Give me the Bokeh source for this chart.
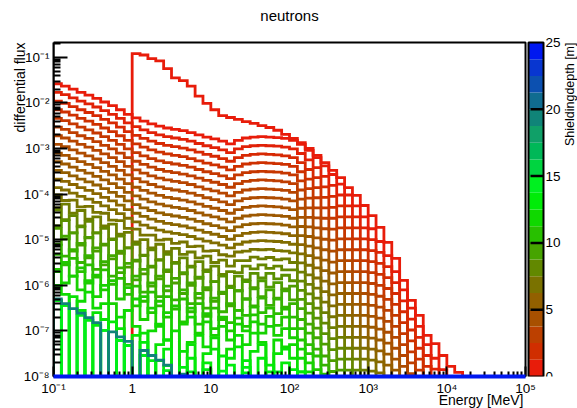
import math
from bokeh.plotting import figure
from bokeh.models import (FixedTicker, CustomJSTickFormatter, Range1d,
                          LinearScale, Title)
from bokeh.core.properties import value
from bokeh.embed import file_html
from bokeh.resources import INLINE

# ---------------- data (log10 of differential flux per energy bin) ----------------
# 60 log-spaced energy bins from 0.1 MeV to 1e5 MeV (10 per decade); None = empty bin
n_bins = 60
bin_edges = [10 ** (-1 + 0.1 * k) for k in range(n_bins + 1)]

flux_d00 = [None, None, None, None, None, None, None, None, None, None,
            -0.92, -0.95, -1.03, -1.08, -1.25, -1.45, -1.51, -1.63, -1.85, -2.01,
            -2.15, -2.28, -2.32, -2.36, -2.41, -2.45, -2.50, -2.54, -2.60, -2.69,
            -2.78, -2.87, -3.00, -3.15, -3.31, -3.48, -3.64, -3.86, -4.03, -4.25,
            -4.47, -4.73, -5.06, -5.41, -5.89, -6.33, -6.66, -7.10, -7.28, -7.54,
            -7.78, -7.91]
flux_d05 = [-1.58, -1.63, -1.70, -1.77, -1.83, -1.90, -1.98, -2.06, -2.15, -2.25,
            -2.33, -2.40, -2.46, -2.51, -2.55, -2.58, -2.61, -2.65, -2.70, -2.75,
            -2.79, -2.84, -2.90, -2.82, -2.77, -2.75, -2.74, -2.75, -2.76, -2.78,
            -2.82, -2.91, -3.04, -3.20, -3.38, -3.57, -3.78, -4.02, -4.26, -4.50,
            -4.76, -5.04, -5.35, -5.70, -6.10, -6.50, -6.90, -7.30, -7.60, -7.85]
flux_d10 = [-1.77, -1.82, -1.89, -1.96, -2.02, -2.09, -2.17, -2.25, -2.34, -2.44,
            -2.52, -2.59, -2.65, -2.70, -2.74, -2.77, -2.80, -2.84, -2.89, -2.94,
            -2.98, -3.03, -3.09, -3.01, -2.96, -2.94, -2.93, -2.94, -2.95, -2.97,
            -3.01, -3.11, -3.25, -3.42, -3.61, -3.81, -4.02, -4.26, -4.50, -4.74,
            -5.00, -5.28, -5.59, -5.94, -6.34, -6.74, -7.14, -7.54, -7.84]
flux_d15 = [-1.96, -2.01, -2.08, -2.15, -2.21, -2.28, -2.36, -2.44, -2.53, -2.63,
            -2.71, -2.78, -2.84, -2.89, -2.93, -2.96, -2.99, -3.03, -3.08, -3.13,
            -3.17, -3.22, -3.28, -3.20, -3.15, -3.13, -3.12, -3.13, -3.14, -3.16,
            -3.20, -3.31, -3.46, -3.64, -3.84, -4.05, -4.26, -4.50, -4.74, -4.98,
            -5.24, -5.52, -5.83, -6.18, -6.58, -6.98, -7.38, -7.78]
flux_d20 = [-2.15, -2.20, -2.27, -2.34, -2.40, -2.47, -2.55, -2.63, -2.72, -2.82,
            -2.90, -2.97, -3.03, -3.08, -3.12, -3.15, -3.18, -3.22, -3.27, -3.32,
            -3.36, -3.41, -3.47, -3.39, -3.34, -3.32, -3.31, -3.32, -3.33, -3.35,
            -3.39, -3.51, -3.67, -3.86, -4.07, -4.29, -4.50, -4.74, -4.98, -5.22,
            -5.48, -5.76, -6.07, -6.42, -6.82, -7.22, -7.62]
flux_d25 = [-2.34, -2.39, -2.46, -2.53, -2.59, -2.66, -2.74, -2.82, -2.91, -3.01,
            -3.09, -3.16, -3.22, -3.27, -3.31, -3.34, -3.37, -3.41, -3.46, -3.51,
            -3.55, -3.60, -3.66, -3.58, -3.53, -3.51, -3.50, -3.51, -3.52, -3.54,
            -3.58, -3.71, -3.88, -4.08, -4.30, -4.53, -4.74, -4.98, -5.22, -5.46,
            -5.72, -6.00, -6.31, -6.66, -7.06, -7.46, -7.86]
flux_d30 = [-2.53, -2.58, -2.65, -2.72, -2.78, -2.85, -2.93, -3.01, -3.10, -3.20,
            -3.28, -3.35, -3.41, -3.46, -3.50, -3.53, -3.56, -3.60, -3.65, -3.70,
            -3.74, -3.79, -3.85, -3.77, -3.72, -3.70, -3.69, -3.70, -3.71, -3.73,
            -3.77, -3.91, -4.09, -4.30, -4.53, -4.77, -4.98, -5.22, -5.46, -5.70,
            -5.96, -6.24, -6.55, -6.90, -7.30, -7.70]
flux_d35 = [-2.72, -2.77, -2.84, -2.91, -2.97, -3.04, -3.12, -3.20, -3.29, -3.39,
            -3.47, -3.54, -3.60, -3.65, -3.69, -3.72, -3.75, -3.79, -3.84, -3.89,
            -3.93, -3.98, -4.04, -3.96, -3.91, -3.89, -3.88, -3.89, -3.90, -3.92,
            -3.96, -4.11, -4.30, -4.52, -4.76, -5.01, -5.22, -5.46, -5.70, -5.94,
            -6.20, -6.48, -6.79, -7.14, -7.54, -7.94]
flux_d40 = [-2.91, -2.96, -3.03, -3.10, -3.16, -3.23, -3.31, -3.39, -3.48, -3.58,
            -3.66, -3.73, -3.79, -3.84, -3.88, -3.91, -3.94, -3.98, -4.03, -4.08,
            -4.12, -4.17, -4.23, -4.15, -4.10, -4.08, -4.07, -4.08, -4.09, -4.11,
            -4.15, -4.31, -4.51, -4.74, -4.99, -5.25, -5.46, -5.70, -5.94, -6.18,
            -6.44, -6.72, -7.03, -7.38, -7.78]
flux_d45 = [-3.10, -3.15, -3.22, -3.29, -3.35, -3.42, -3.50, -3.58, -3.67, -3.77,
            -3.85, -3.92, -3.98, -4.03, -4.07, -4.10, -4.13, -4.17, -4.22, -4.27,
            -4.31, -4.36, -4.42, -4.34, -4.29, -4.27, -4.26, -4.27, -4.28, -4.30,
            -4.34, -4.51, -4.72, -4.96, -5.22, -5.49, -5.70, -5.94, -6.18, -6.42,
            -6.68, -6.96, -7.27, -7.62]
flux_d50 = [-3.29, -3.34, -3.41, -3.48, -3.54, -3.61, -3.69, -3.77, -3.86, -3.96,
            -4.04, -4.11, -4.17, -4.22, -4.26, -4.29, -4.32, -4.36, -4.41, -4.46,
            -4.50, -4.55, -4.61, -4.53, -4.48, -4.46, -4.45, -4.46, -4.47, -4.49,
            -4.53, -4.71, -4.93, -5.18, -5.45, -5.73, -5.94, -6.18, -6.42, -6.66,
            -6.92, -7.20, -7.51, -7.86]
flux_d55 = [-3.48, -3.53, -3.60, -3.67, -3.73, -3.80, -3.88, -3.96, -4.05, -4.15,
            -4.23, -4.30, -4.36, -4.41, -4.45, -4.48, -4.51, -4.55, -4.60, -4.65,
            -4.69, -4.74, -4.80, -4.72, -4.67, -4.65, -4.64, -4.65, -4.66, -4.68,
            -4.72, -4.91, -5.14, -5.40, -5.68, -5.97, -6.18, -6.42, -6.66, -6.90,
            -7.16, -7.44, -7.75]
flux_d60 = [-3.67, -3.72, -3.79, -3.86, -3.92, -3.99, -4.07, -4.15, -4.24, -4.34,
            -4.42, -4.49, -4.55, -4.60, -4.64, -4.67, -4.70, -4.74, -4.79, -4.84,
            -4.88, -4.93, -4.99, -4.91, -4.86, -4.84, -4.83, -4.84, -4.85, -4.87,
            -4.91, -5.11, -5.35, -5.62, -5.91, -6.21, -6.42, -6.66, -6.90, -7.14,
            -7.40, -7.68, -7.99]
flux_d65 = [-3.86, -3.91, -3.98, -4.05, -4.11, -4.18, -4.26, -4.34, -4.43, -4.53,
            -4.61, -4.68, -4.74, -4.79, -4.83, -4.86, -4.89, -4.93, -4.98, -5.03,
            -5.07, -5.12, -5.18, -5.10, -5.05, -5.03, -5.02, -5.03, -5.04, -5.06,
            -5.10, -5.31, -5.56, -5.84, -6.14, -6.45, -6.66, -6.90, -7.14, -7.38,
            -7.64, -7.92]
flux_d70 = [-4.02, -4.14, -4.13, -4.28, -4.27, -4.40, -4.42, -4.57, -4.58, -4.75,
            -4.77, -4.90, -4.90, -5.01, -4.99, -5.08, -5.05, -5.15, -5.14, -5.25,
            -5.24, -5.33, -5.36, -5.27, -5.25, -5.21, -5.22, -5.21, -5.24, -5.25,
            -5.29, -5.51, -5.77, -6.06, -6.37, -6.69, -6.90, -7.14, -7.38, -7.62,
            -7.88]
flux_d75 = [-4.30, -4.22, -4.42, -4.36, -4.55, -4.50, -4.70, -4.66, -4.88, -4.84,
            -5.05, -5.00, -5.18, -5.10, -5.26, -5.19, -5.32, -5.27, -5.40, -5.36,
            -5.50, -5.45, -5.58, -5.46, -5.46, -5.38, -5.42, -5.39, -5.44, -5.42,
            -5.50, -5.71, -5.98, -6.28, -6.60, -6.93, -7.14, -7.38, -7.62, -7.86]
flux_d80 = [-4.35, -4.56, -4.47, -4.70, -4.60, -4.85, -4.75, -4.98, -4.92, -5.18,
            -5.10, -5.34, -5.22, -5.44, -5.32, -5.50, -5.40, -5.58, -5.48, -5.66,
            -5.58, -5.76, -5.70, -5.72, -5.58, -5.64, -5.55, -5.63, -5.58, -5.66,
            -5.66, -5.91, -6.19, -6.50, -6.83, -7.17, -7.38, -7.62, -7.86]
flux_d85 = [-4.70, -4.58, -4.85, -4.72, -4.96, -4.85, -5.12, -5.00, -5.30, -5.18,
            -5.47, -5.35, -5.60, -5.45, -5.70, -5.52, -5.75, -5.60, -5.85, -5.70,
            -5.92, -5.80, -6.02, -5.80, -5.88, -5.74, -5.84, -5.74, -5.86, -5.78,
            -5.90, -6.11, -6.40, -6.72, -7.06, -7.41, -7.62, -7.86]
flux_d90 = [-4.75, -4.98, -4.85, -5.12, -4.95, -5.25, -5.10, -5.42, -5.25, -5.60,
            -5.45, -5.75, -5.58, -5.86, -5.66, -5.95, -5.72, -6.00, -5.82, -6.10,
            -5.92, -6.18, -6.05, -6.12, -5.92, -6.05, -5.90, -6.04, -5.94, -6.08,
            -6.02, -6.31, -6.61, -6.94, -7.29, -7.65, -7.86]
flux_d95 = [-5.10, -4.92, -5.25, -5.08, -5.40, -5.18, -5.55, -5.35, -5.72, -5.52,
            -5.88, -5.65, -6.02, -5.80, -6.12, -5.85, -6.18, -5.95, -6.28, -6.05,
            -6.35, -6.15, -6.45, -6.12, -6.30, -6.08, -6.25, -6.10, -6.28, -6.12,
            -6.32, -6.51, -6.85, -7.15, -7.55, -7.89]
flux_d100 = [-5.12, -5.36, -5.22, -5.50, -5.35, -5.65, -5.48, -5.80, -5.62, -5.98,
             -5.80, -6.15, -5.95, -6.25, -6.02, -6.32, -6.10, -6.40, -6.18, -6.50,
             -6.28, -6.58, -6.40, -6.55, -6.30, -6.45, -6.28, -6.44, -6.30, -6.48,
             -6.40, -6.75, -7.05, -7.40, -7.75]
flux_d105 = [-5.32, -5.55, -5.41, -5.70, -5.55, -5.82, -5.66, -5.98, -5.85, -6.20,
             -6.02, -6.35, -6.15, -6.45, -6.25, -6.52, -6.30, -6.58, -6.40, -6.68,
             -6.50, -6.75, -6.82, -6.55, -6.66, -6.48, -6.60, -6.50, -6.62, -6.52,
             -6.70, -6.95, -7.30, -7.55, -7.95]
flux_d110 = [-5.65, -5.50, -5.80, -5.62, -5.95, -5.78, -6.10, -5.90, -6.30, -6.05,
             -6.45, -6.25, -6.60, -6.35, -6.70, -6.45, -6.80, -6.50, -6.85, -6.62,
             -6.95, -6.70, -7.00, -6.72, -6.90, -6.65, -6.85, -6.68, -6.88, -6.70,
             -6.95, -7.20, -7.50, -7.85]
flux_d115 = [-5.70, -5.95, -5.80, -6.10, -5.90, -6.25, -6.00, -6.40, None, -6.55,
             -6.30, -6.75, -6.50, -6.90, -6.60, None, -6.85, -6.70, -7.05, -6.80,
             -7.10, -6.90, -7.20, -6.85, -7.00, -6.80, -7.05, -6.90, -7.10, -6.95,
             -7.15, -7.40, -7.70]
flux_d120 = [-6.00, -6.20, None, -6.35, -6.15, -6.50, -6.40, None, -6.70, -6.55,
             -6.90, None, -7.00, -6.85, -7.20, -7.00, None, -7.25, -7.10, -7.35,
             -7.15, None, -7.40, -7.10, -7.30, -7.05, -7.25, None, -7.20, -7.35,
             -7.30, -7.60, -7.90]
flux_d125 = [-6.33, None, -6.25, -6.55, None, -6.60, -6.75, None, -6.95, None,
             -7.10, -7.05, None, -7.30, -7.20, None, -7.45, -7.30, None, -7.50,
             -7.40, None, -7.60, -7.35, None, -7.45, -7.30, None, -7.50, -7.40,
             -7.60, -7.90]
flux_d130 = [-6.33, -6.44, None, -6.55, None, -6.88, None, -6.80, None, -7.32,
             None, -7.25, None, -7.65, -7.40, None, None, -7.60, None, -7.70,
             None, -7.55, None, None, -7.65, None, -7.60, -7.75, None, -7.70,
             None, -7.90]
flux_d135 = [None, -6.44, None, None, -6.77, None, -6.99, None, None, -7.32,
             None, None, -7.65, None, -7.76, None, -7.80, None, None, -7.85,
             None, None, -7.75, None, -7.80, None, None, -7.90, None, None,
             -7.85]
flux_d140 = [-6.33, None, None, -6.66, None, None, -6.99, None, -7.21, None,
             None, -7.54, None, None, -7.87, None, None, -7.90, None, None,
             None, -7.88, None, None, -7.92, None, None, None, -7.90]
flux_d195 = [-6.30, -6.40, -6.51, -6.61, -6.71, -6.82, None, -7.02, -7.13, -7.23,
             None, -7.43, -7.54, -7.64, -7.75, None, -7.95]
flux_d250 = []

depths = [0.0, 0.5, 1.0, 1.5, 2.0, 2.5, 3.0, 3.5, 4.0, 4.5, 5.0, 5.5, 6.0, 6.5,
          7.0, 7.5, 8.0, 8.5, 9.0, 9.5, 10.0, 10.5, 11.0, 11.5, 12.0, 12.5,
          13.0, 13.5, 14.0, 19.5, 25.0]
curves = [flux_d00, flux_d05, flux_d10, flux_d15, flux_d20, flux_d25, flux_d30,
          flux_d35, flux_d40, flux_d45, flux_d50, flux_d55, flux_d60, flux_d65,
          flux_d70, flux_d75, flux_d80, flux_d85, flux_d90, flux_d95, flux_d100,
          flux_d105, flux_d110, flux_d115, flux_d120, flux_d125, flux_d130,
          flux_d135, flux_d140, flux_d195, flux_d250]

# colour levels of the shielding-depth palette (0 m at index 0 ... 25 m at index 19)
band_colors = ["#e81c0a", "#d02e00", "#bc4000", "#a85000", "#926000", "#7a7200",
               "#628800", "#46a400", "#28c000", "#10d800", "#00ec08", "#00f020",
               "#00d440", "#00b858", "#10a068", "#108478", "#106c90", "#0c50b0",
               "#0836d0", "#0018f0"]
bar_low, bar_high = 0.0, 25.0
bar_ticks = [0, 5, 10, 15, 20, 25]

x_major = [0.1, 1, 10, 100, 1e3, 1e4, 1e5]
y_major = [1e-8, 1e-7, 1e-6, 1e-5, 1e-4, 1e-3, 1e-2, 1e-1]

# axis box limits
x_lo, x_hi = 0.1, 1e5
y_lo, y_hi = 1e-8, 0.2113

# ---------------- page geometry (pixels) ----------------
W, H = 577, 408
FRAME_L, FRAME_B = 53, 376          # frame: x 53..577, y 0..376 (canvas px)
PX_PER_DEC_X = 78.67
PX_PER_DEC_Y = 45.6
BAR_TOP_PX = 42                      # canvas y of bar/box top
FONT = "Liberation Sans"
FLOOR = y_lo


def hex_to_rgb(h):
    return tuple(int(h[i:i + 2], 16) for i in (1, 3, 5))


def depth_color(d):
    t = d / bar_high * len(band_colors) - 0.5
    t = min(max(t, 0.0), len(band_colors) - 1.0)
    i0 = int(math.floor(t))
    i1 = min(i0 + 1, len(band_colors) - 1)
    f = t - i0
    c0, c1 = hex_to_rgb(band_colors[i0]), hex_to_rgb(band_colors[i1])
    c = [round(a + (b - a) * f) for a, b in zip(c0, c1)]
    return "#%02x%02x%02x" % tuple(c)


x_view_hi = x_lo * 10 ** ((W - FRAME_L) / PX_PER_DEC_X)
y_view_hi = y_lo * 10 ** (FRAME_B / PX_PER_DEC_Y)
depth_view_hi = bar_high * FRAME_B / (FRAME_B - BAR_TOP_PX)

p = figure(width=W, height=H, x_axis_type="log", y_axis_type="log",
           x_range=Range1d(x_lo, x_view_hi), y_range=Range1d(y_lo, y_view_hi),
           output_backend="svg", toolbar_location=None,
           min_border_left=FRAME_L, min_border_right=0, min_border_top=0,
           min_border_bottom=H - FRAME_B)
p.background_fill_color = "white"
p.border_fill_color = "white"
p.outline_line_color = None
p.xgrid.visible = False
p.ygrid.visible = False
p.extra_x_ranges = {"px": Range1d(FRAME_L, W)}
p.extra_x_scales = {"px": LinearScale()}
p.extra_y_ranges = {"py": Range1d(FRAME_B, 0),
                    "depth": Range1d(bar_low, depth_view_hi)}
p.extra_y_scales = {"py": LinearScale(), "depth": LinearScale()}

# ---------------- histograms ----------------
for d, vals in zip(depths, curves):
    xs = [bin_edges[0]]
    ys = [FLOOR]
    for k in range(n_bins):
        v = vals[k] if k < len(vals) else None
        y = FLOOR if v is None else 10 ** v
        xs += [bin_edges[k], bin_edges[k + 1]]
        ys += [y, y]
    xs.append(bin_edges[-1])
    ys.append(FLOOR)
    last = d >= bar_high
    p.line(xs, ys, line_color=depth_color(d), line_width=4 if last else 2.8,
           line_join="miter", level="overlay" if last else "glyph")

# axis box (top / right edges; left / bottom are the axis lines)
p.quad(left=[x_lo], right=[x_hi], bottom=[y_lo], top=[y_hi],
       fill_color=None, line_color="black", line_width=2)

# ---------------- axes ----------------
fmt_code = """
const e = Math.round(Math.log10(tick));
if (e == 0) return "1";
if (e == 1) return "10";
const sup = {"-":"\u207b","0":"\u2070","1":"\u00b9","2":"\u00b2","3":"\u00b3","4":"\u2074",
             "5":"\u2075","6":"\u2076","7":"\u2077","8":"\u2078","9":"\u2079"};
return "10" + String(e).split("").map(c => sup[c]).join("");
"""
x_minor = [m * 10 ** e for e in range(-1, 5) for m in range(2, 10)]
y_minor = [m * 10 ** e for e in range(-8, 0) for m in range(2, 10)
           if m * 10 ** e <= y_hi]

p.xaxis.ticker = FixedTicker(ticks=x_major, minor_ticks=x_minor)
p.yaxis.ticker = FixedTicker(ticks=y_major, minor_ticks=y_minor)
p.xaxis.bounds = (x_lo, x_hi)
p.yaxis.bounds = (y_lo, y_hi)
for ax in (p.xaxis[0], p.yaxis[0]):
    ax.formatter = CustomJSTickFormatter(code=fmt_code)
    ax.major_label_text_font = FONT
    ax.major_label_text_font_size = "13.5px"
    ax.major_label_text_color = "black"
    ax.axis_line_color = "black"
    ax.axis_line_width = 2
    ax.major_tick_line_color = "black"
    ax.minor_tick_line_color = "black"
    ax.major_tick_line_width = 2
    ax.minor_tick_line_width = 2
    ax.major_tick_out = 0
    ax.minor_tick_out = 0
p.xaxis.major_tick_in = 10
p.xaxis.minor_tick_in = 5
p.yaxis.major_tick_in = 14
p.yaxis.minor_tick_in = 7
p.xaxis.major_label_standoff = 4
p.yaxis.major_label_standoff = 4

ytitle = Title(text="differential flux", align="right", offset=BAR_TOP_PX,
               text_font=FONT, text_font_size="14px", text_font_style="normal",
               text_color="black", standoff=-15)
p.add_layout(ytitle, "left")
xtitle = Title(text="Energy [MeV]", align="right", offset=W - 523,
               vertical_align="top",
               text_font=FONT, text_font_size="14px", text_font_style="normal",
               text_color="black", standoff=-14)
p.add_layout(xtitle, "below")

# ---------------- colour scale (drawn with the depth scale) ----------------
n_lev = len(band_colors)
lev_lo = [bar_low + (bar_high - bar_low) * i / n_lev for i in range(n_lev)]
lev_hi = [bar_low + (bar_high - bar_low) * (i + 1) / n_lev for i in range(n_lev)]
BAR_L, BAR_R = 528, 543
p.quad(left=BAR_L, right=BAR_R, bottom=lev_lo, top=lev_hi, fill_color=band_colors,
       line_color=None, x_range_name="px", y_range_name="depth")
p.quad(left=[BAR_L], right=[BAR_R], bottom=[bar_low], top=[bar_high],
       fill_color=None, line_color="black", line_width=2,
       x_range_name="px", y_range_name="depth")
inner = [t for t in bar_ticks if bar_low < t < bar_high]
p.segment(x0=BAR_R - 13, x1=BAR_R, y0=inner, y1=inner, line_color="black",
          line_width=2.5, x_range_name="px", y_range_name="depth")
p.text(x=BAR_R + 2, y=bar_ticks, text=[str(t) for t in bar_ticks],
       text_font=value(FONT), text_font_size=value("13.5px"), text_color="black",
       text_align="left", text_baseline="middle",
       x_range_name="px", y_range_name="depth")
p.text(x=[W - 8], y=[bar_high], text=["Shieldingdepth [m]"], angle=math.pi / 2,
       text_font=value(FONT), text_font_size=value("12.5px"), text_color="black",
       text_align="right", text_baseline="alphabetic",
       x_range_name="px", y_range_name="depth")

# plot title
p.text(x=[(FRAME_L + 525) / 2], y=[15], text=["neutrons"],
       text_font=value(FONT), text_font_size=value("15px"), text_color="black",
       text_align="center", text_baseline="middle",
       x_range_name="px", y_range_name="py")

open("out.html", "w").write(file_html(p, INLINE))
